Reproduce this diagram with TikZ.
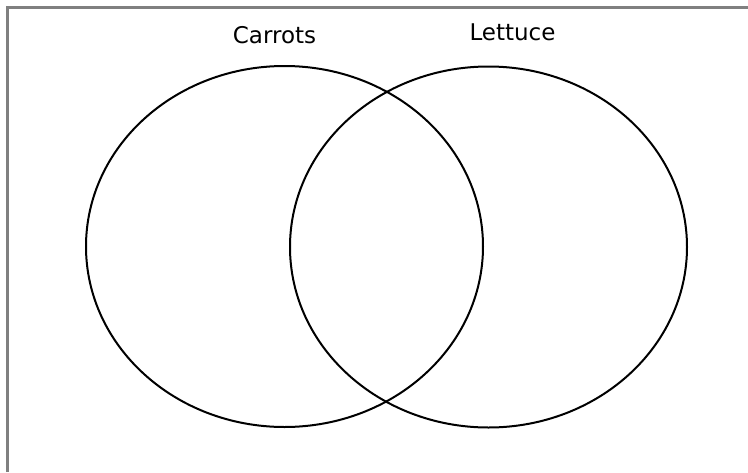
\documentclass[tikz,border=0pt]{standalone}
\usepackage{fontspec}
\setmainfont{DejaVu Sans}
\usetikzlibrary{shapes.geometric}
\begin{document}
\begin{tikzpicture}[x=1pt,y=-1pt,
  setcircle/.style={draw=black,line width=2pt,ellipse,inner sep=0pt,minimum width=397pt,minimum height=361pt},
  setlabel/.style={anchor=base,inner sep=0pt,font=\fontsize{23}{26}\selectfont}]
\useasboundingbox (0,0) rectangle (748,472);
\draw[color=black!50,line width=2.6pt] (7.5,472) -- (7.5,7.5) -- (748,7.5);
\node[setcircle] (carrots) at (284.5,246.5) {};
\node[setcircle] (lettuce) at (488.5,247) {};
\node[setlabel] (lc) at (274.5,43) {Carrots};
\node[setlabel] (ll) at (512.5,40) {Lettuce};
\end{tikzpicture}
\end{document}
